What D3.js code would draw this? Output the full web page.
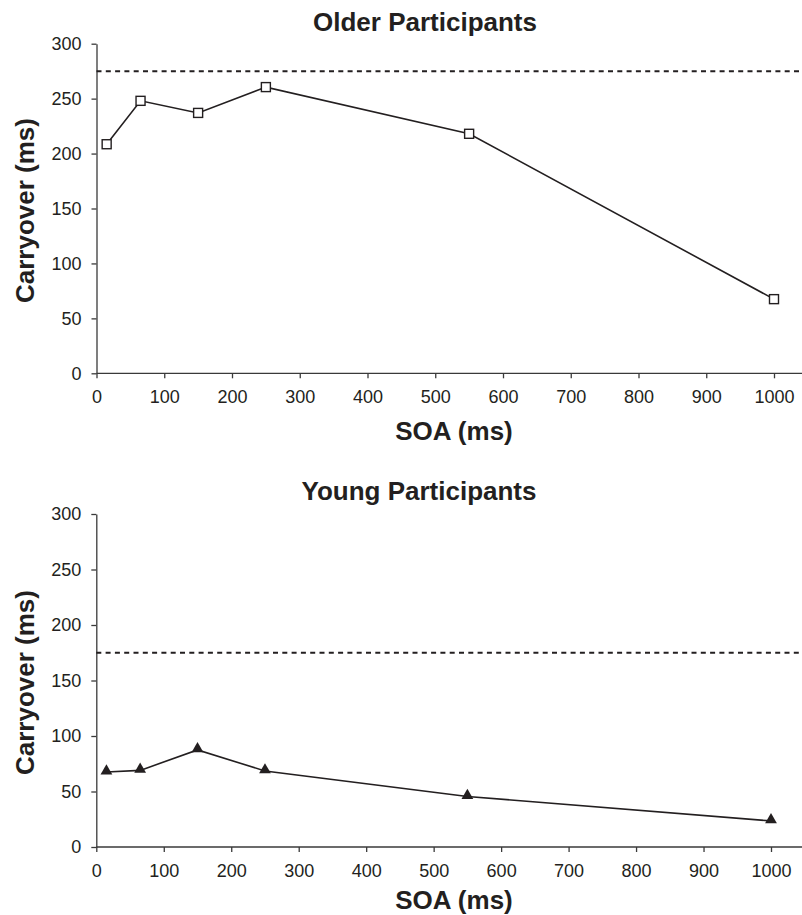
<!DOCTYPE html>
<html>
<head>
<meta charset="utf-8">
<script src="https://cdn.jsdelivr.net/npm/d3@7"></script>
<style>
  body { margin: 0; background: #fff; }
  text { font-family: "Liberation Sans", Arial, sans-serif; fill: #231f20; }
  .axis path, .axis line { stroke: #3a3a3a; stroke-width: 1.3; }
  .axis text { font-size: 18px; fill: #231f20; }
  .ttl { font-size: 26px; font-weight: bold; }
</style>
</head>
<body>
<svg id="chart" width="802" height="915"></svg>
<script>
var svgWidth = 802, svgHeight = 915;

// data
var soa = [15, 65, 150, 250, 550, 1000];
var olderCarry = [208.5, 248, 237, 260.5, 218, 67.5];
var youngCarry = [67.5, 69, 87.5, 68.5, 45.5, 23.5];
var baselines = [275, 175];          // dashed reference lines
var titles = ['Older Participants', 'Young Participants'];
var xTicks = [0, 100, 200, 300, 400, 500, 600, 700, 800, 900, 1000];
var yTicks = [0, 50, 100, 150, 200, 250, 300];

var panels = [
  {title: titles[0], values: olderCarry, dash: baselines[0], marker: 'square',
   top: 43.7, bottom: 373.3, left: 96.5, x1000: 774, titleX: 425, titleY: 30.5, xLabY: 440},
  {title: titles[1], values: youngCarry, dash: baselines[1], marker: 'triangle',
   top: 514, bottom: 847, left: 96.3, x1000: 771, titleX: 419, titleY: 500, xLabY: 909}
];

var svg = d3.select('#chart');

panels.forEach(function(p) {
  var xMax = 1000 * (svgWidth - p.left) / (p.x1000 - p.left);
  var xScale = d3.scaleLinear().domain([0, xMax]).range([p.left, svgWidth]);
  var yScale = d3.scaleLinear().domain([0, 300]).range([p.bottom, p.top]);

  var g = svg.append('g');

  g.append('g')
      .attr('class', 'axis')
      .attr('transform', 'translate(0,' + p.bottom + ')')
      .call(d3.axisBottom(xScale).tickValues(xTicks).tickFormat(d3.format('d'))
            .tickSizeInner(5).tickSizeOuter(0).tickPadding(12))
      .call(function(a) { a.select('.domain').attr('d', 'M' + p.left + ',0H' + svgWidth); });

  g.append('g')
      .attr('class', 'axis')
      .attr('transform', 'translate(' + p.left + ',0)')
      .call(d3.axisLeft(yScale).tickValues(yTicks).tickFormat(d3.format('d'))
            .tickSizeInner(5).tickSizeOuter(0).tickPadding(10));

  g.selectAll('.axis').attr('font-family', null).attr('font-size', null);

  // dashed reference line
  g.append('line')
      .attr('x1', xScale(0)).attr('x2', svgWidth)
      .attr('y1', yScale(p.dash)).attr('y2', yScale(p.dash))
      .attr('stroke', '#231f20').attr('stroke-width', 2)
      .attr('stroke-dasharray', '5,4.3');

  var pts = soa.map(function(s, i) { return {x: s, y: p.values[i]}; });

  var line = d3.line()
      .x(function(d) { return xScale(d.x); })
      .y(function(d) { return yScale(d.y); });

  g.append('path')
      .datum(pts)
      .attr('d', line)
      .attr('fill', 'none')
      .attr('stroke', '#231f20')
      .attr('stroke-width', 1.6);

  if (p.marker === 'square') {
    g.selectAll('.dot')
      .data(pts)
      .enter().append('rect')
        .attr('class', 'dot')
        .attr('x', function(d) { return xScale(d.x) - 4.5; })
        .attr('y', function(d) { return yScale(d.y) - 4.5; })
        .attr('width', 9).attr('height', 9)
        .attr('fill', '#fff')
        .attr('stroke', '#231f20')
        .attr('stroke-width', 1.4);
  } else {
    var tri = d3.symbol().type(d3.symbolTriangle).size(60);
    g.selectAll('.dot')
      .data(pts)
      .enter().append('path')
        .attr('class', 'dot')
        .attr('d', tri)
        .attr('transform', function(d) { return 'translate(' + xScale(d.x) + ',' + (yScale(d.y) - 1) + ')'; })
        .attr('fill', '#231f20');
  }

  // titles and axis labels
  g.append('text')
      .attr('class', 'ttl')
      .attr('x', p.titleX).attr('y', p.titleY)
      .attr('text-anchor', 'middle')
      .text(p.title);

  g.append('text')
      .attr('class', 'ttl')
      .attr('x', 454).attr('y', p.xLabY)
      .attr('text-anchor', 'middle')
      .text('SOA (ms)');

  g.append('text')
      .attr('class', 'ttl')
      .attr('transform', 'translate(34,' + ((p.top + p.bottom) / 2 + 2) + ') rotate(-90)')
      .attr('text-anchor', 'middle')
      .text('Carryover (ms)');
});
</script>
</body>
</html>
